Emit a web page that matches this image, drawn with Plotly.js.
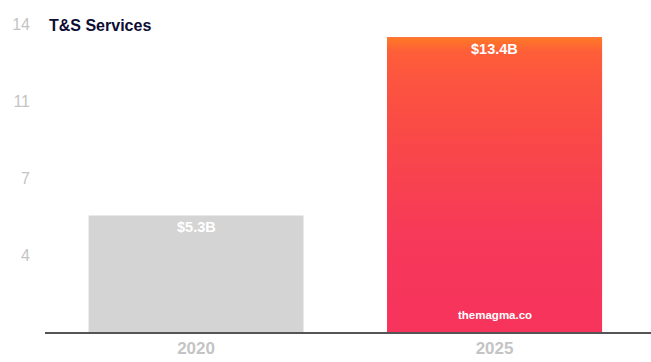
<!DOCTYPE html>
<html>
<head>
<meta charset="utf-8">
<script src="https://cdn.plot.ly/plotly-3.0.1.min.js"></script>
<style>html,body{margin:0;padding:0;background:#fff;}#chart{width:651px;height:362px;}</style>
</head>
<body>
<div id="chart"></div>
<script>
const categories = ['2020', '2025'];
const values = [5.3, 13.4];
const valueLabels = ['$5.3B', '$13.4B'];
const tickVals = [3.5, 7, 10.5, 14];
const tickText = ['4', '7', '11', '14'];
const chartTitle = 'T&S Services';
const watermark = 'themagma.co';

const barWidth = 0.72;
const xs = categories.map((c, i) => i);

const bars = {
  type: 'bar',
  x: xs,
  y: values,
  width: barWidth,
  marker: { color: ['#d4d4d4', '#f8405a'], line: { width: 0 } },
  hoverinfo: 'none'
};

// gradient overlay for the 2025 bar, built from its data value
const gi = 1;
const gx0 = xs[gi] - barWidth / 2, gx1 = xs[gi] + barWidth / 2;
const grad = {
  type: 'scatter',
  mode: 'none',
  x: [gx0, gx1, gx1, gx0, gx0],
  y: [0, 0, values[gi], values[gi], 0],
  fill: 'toself',
  fillgradient: {
    type: 'vertical',
    start: 0,
    stop: values[gi],
    colorscale: [[0, '#f7335c'], [0.3, '#f6385a'], [0.52, '#f8424f'], [0.7, '#fa4b45'], [0.85, '#fc5440'], [0.95, '#fe5e38'], [1, '#ff7a26']]
  },
  hoverinfo: 'none'
};

const annotations = values.map((v, i) => ({
  x: xs[i], y: v, xref: 'x', yref: 'y',
  text: valueLabels[i], showarrow: false,
  yanchor: 'top', yshift: -2,
  font: { family: 'Liberation Sans, Arial, sans-serif', size: 14.5, color: '#ffffff', weight: 'bold' }
}));
annotations.push({
  x: xs[1], y: 0, xref: 'x', yref: 'y',
  text: watermark, showarrow: false, yanchor: 'bottom', yshift: 9,
  font: { family: 'Liberation Sans, Arial, sans-serif', size: 11.5, color: '#ffffff', weight: 'bold' }
});

const layout = {
  width: 651, height: 362,
  margin: { l: 45, r: 0, t: 20, b: 30 },
  paper_bgcolor: '#ffffff', plot_bgcolor: '#ffffff',
  showlegend: false,
  title: {
    text: '<b>' + chartTitle + '</b>',
    x: 49 / 651, xanchor: 'left', y: 0.93, yanchor: 'middle',
    font: { family: 'Liberation Sans, Arial, sans-serif', size: 16, color: '#0d0d33' }
  },
  xaxis: {
    range: [-0.506, 1.524],
    tickvals: xs, ticktext: categories,
    showgrid: false, zeroline: false,
    showline: true, linecolor: '#555555', linewidth: 2,
    ticks: '',
    tickfont: { family: 'Liberation Sans, Arial, sans-serif', size: 17, color: '#c4c4c4', weight: 'bold' },
    fixedrange: true
  },
  yaxis: {
    range: [0, 14.18],
    tickvals: tickVals, ticktext: tickText,
    showgrid: false, zeroline: false, showline: false,
    ticks: '', ticklabelstandoff: 14,
    tickfont: { family: 'Liberation Sans, Arial, sans-serif', size: 16, color: '#c4c4c4' },
    fixedrange: true
  },
  annotations: annotations
};

Plotly.newPlot('chart', [bars, grad], layout, { displayModeBar: false, staticPlot: true });
</script>
</body>
</html>
